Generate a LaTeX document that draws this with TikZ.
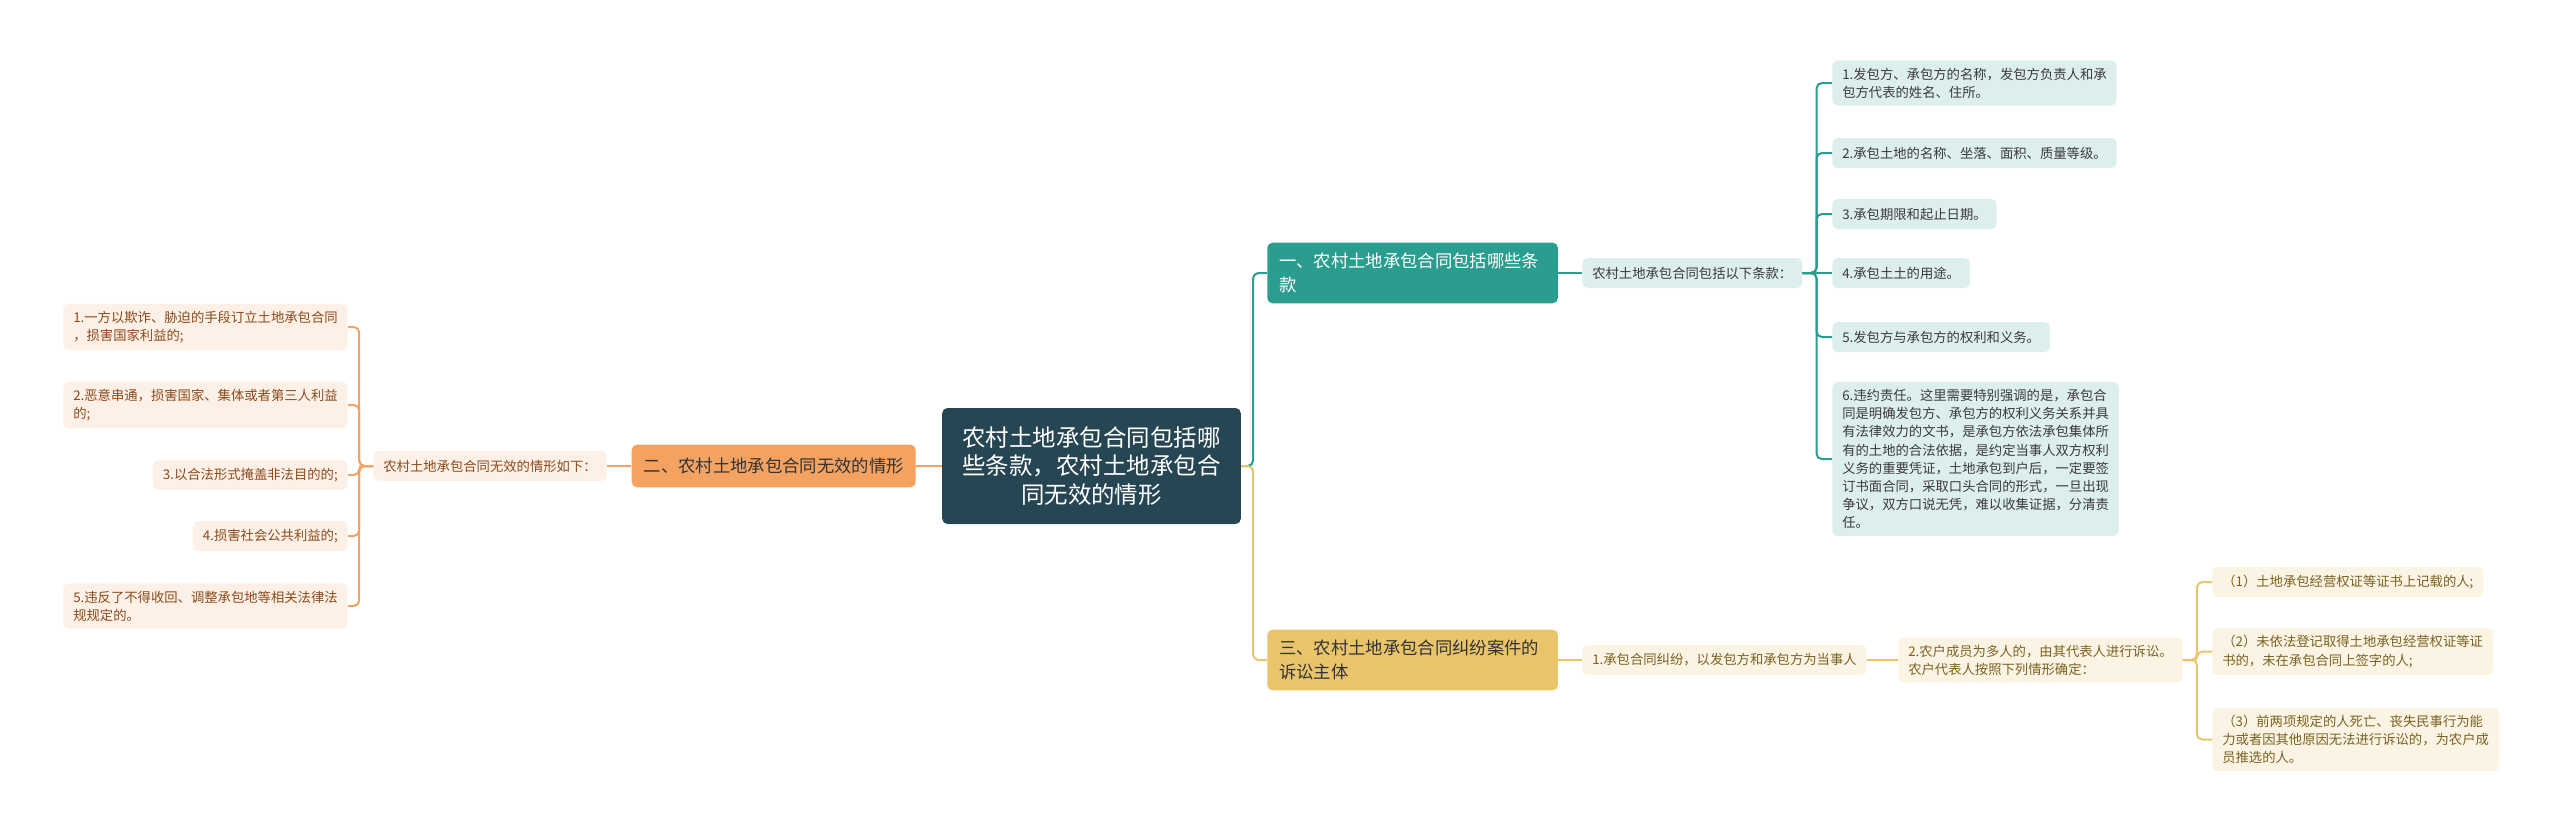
\documentclass[tikz,border=0pt]{standalone}
\usepackage{fontspec}
\setmainfont{Noto Sans CJK SC}
\definecolor{rootslate}{HTML}{264653}
\definecolor{brteal}{HTML}{2A9D8F}
\definecolor{brorange}{HTML}{F4A261}
\definecolor{brsaffron}{HTML}{E9C46A}
\definecolor{inkdark}{HTML}{333333}
\definecolor{inkgray}{HTML}{3A3A3A}
\definecolor{inkbrown}{HTML}{8A4B1D}
\definecolor{inkolive}{HTML}{7A6222}

\begin{document}
\begin{tikzpicture}[x=0.75pt, y=-0.75pt,
  mainbox/.style={fill=rootslate, text=white, rounded corners=4pt, align=center,
    font=\fontsize{17.6}{21.5}\selectfont, minimum width=224pt, minimum height=87pt},
  topicbox/.style={rounded corners=4pt, align=left, inner xsep=9pt, inner ysep=7.5pt,
    minimum height=32pt, font=\fontsize{13}{18.5}\selectfont},
  leafbox/.style={rounded corners=4pt, align=left, inner xsep=7.5pt, inner ysep=5.5pt,
    minimum height=22.5pt, font=\fontsize{10}{13.6}\selectfont},
  tealleaf/.style={leafbox, fill=brteal!16, text=inkgray},
  orangeleaf/.style={leafbox, fill=brorange!16, text=inkbrown},
  saffronleaf/.style={leafbox, fill=brsaffron!18, text=inkolive},
  link/.style={line width=1.5pt, rounded corners=4pt}]

  \useasboundingbox (0,0) rectangle (2560,832);

  % Centre topic
  \node[mainbox] (root) at (1091.5,466) {农村土地承包合同包括哪\\些条款，农村土地承包合\\同无效的情形};

  % Branch one: contract clauses
  \node[topicbox, fill=brteal, text=white, text width=200pt, anchor=west] (t1) at (1267,273) {一、农村土地承包合同包括哪些条\\款};
  \node[tealleaf, anchor=west] (k1) at (1582,273) {农村土地承包合同包括以下条款：};
  \node[tealleaf, anchor=west] (r1) at (1832,83) {1.发包方、承包方的名称，发包方负责人和承\\包方代表的姓名、住所。};
  \node[tealleaf, anchor=west] (r2) at (1832,153) {2.承包土地的名称、坐落、面积、质量等级。};
  \node[tealleaf, anchor=west] (r3) at (1832,214) {3.承包期限和起止日期。};
  \node[tealleaf, anchor=west] (r4) at (1832,273) {4.承包土土的用途。};
  \node[tealleaf, anchor=west] (r5) at (1832,337) {5.发包方与承包方的权利和义务。};
  \node[tealleaf, anchor=west] (r6) at (1832,459) {6.违约责任。这里需要特别强调的是，承包合\\同是明确发包方、承包方的权利义务关系并具\\有法律效力的文书，是承包方依法承包集体所\\有的土地的合法依据，是约定当事人双方权利\\义务的重要凭证，土地承包到户后，一定要签\\订书面合同，采取口头合同的形式，一旦出现\\争议，双方口说无凭，难以收集证据，分清责\\任。};

  % Branch two: invalid contracts
  \node[topicbox, fill=brorange, text=inkdark, anchor=east] (t2) at (916,466) {二、农村土地承包合同无效的情形};
  \node[orangeleaf, anchor=east] (k2) at (607,466) {农村土地承包合同无效的情形如下：};
  \node[orangeleaf, anchor=east] (l1) at (348,327) {1.一方以欺诈、胁迫的手段订立土地承包合同\\，损害国家利益的;};
  \node[orangeleaf, anchor=east] (l2) at (348,405) {2.恶意串通，损害国家、集体或者第三人利益\\的;};
  \node[orangeleaf, anchor=east] (l3) at (348,475) {3.以合法形式掩盖非法目的的;};
  \node[orangeleaf, anchor=east] (l4) at (348,536) {4.损害社会公共利益的;};
  \node[orangeleaf, anchor=east] (l5) at (348,606) {5.违反了不得收回、调整承包地等相关法律法\\规规定的。};

  % Branch three: parties to a dispute
  \node[topicbox, fill=brsaffron, text=inkdark, text width=200pt, anchor=west] (t3) at (1267,660) {三、农村土地承包合同纠纷案件的\\诉讼主体};
  \node[saffronleaf, anchor=west] (k3) at (1582,660) {1.承包合同纠纷，以发包方和承包方为当事人};
  \node[saffronleaf, anchor=west] (k4) at (1898,660) {2.农户成员为多人的，由其代表人进行诉讼。\\农户代表人按照下列情形确定：};
  \node[saffronleaf, anchor=west] (s1) at (2212,582) {（1）土地承包经营权证等证书上记载的人;};
  \node[saffronleaf, anchor=west] (s2) at (2212,651.5) {（2）未依法登记取得土地承包经营权证等证\\书的，未在承包合同上签字的人;};
  \node[saffronleaf, anchor=west] (s3) at (2212,739.5) {（3）前两项规定的人死亡、丧失民事行为能\\力或者因其他原因无法进行诉讼的，为农户成\\员推选的人。};

  % Connectors
  \draw[link, brteal] (root.east) -- ++(12,0) |- (t1.west);
  \draw[link, brsaffron] (root.east) -- ++(12,0) |- (t3.west);
  \draw[link, brorange] (root.west) -- (t2.east);

  \draw[link, brteal] (t1.east) -- (k1.west);
  \foreach \i in {1,2,3,5,6}
    \draw[link, brteal] (k1.east) -- ++(14,0) |- (r\i.west);
  \draw[link, brteal] (k1.east) -- (r4.west);

  \draw[link, brorange] (t2.west) -- (k2.east);
  \foreach \i in {1,...,5}
    \draw[link, brorange] (k2.west) -- ++(-14,0) |- (l\i.east);

  \draw[link, brsaffron] (t3.east) -- (k3.west);
  \draw[link, brsaffron] (k3.east) -- (k4.west);
  \foreach \i in {1,2,3}
    \draw[link, brsaffron] (k4.east) -- ++(14,0) |- (s\i.west);
\end{tikzpicture}
\end{document}
